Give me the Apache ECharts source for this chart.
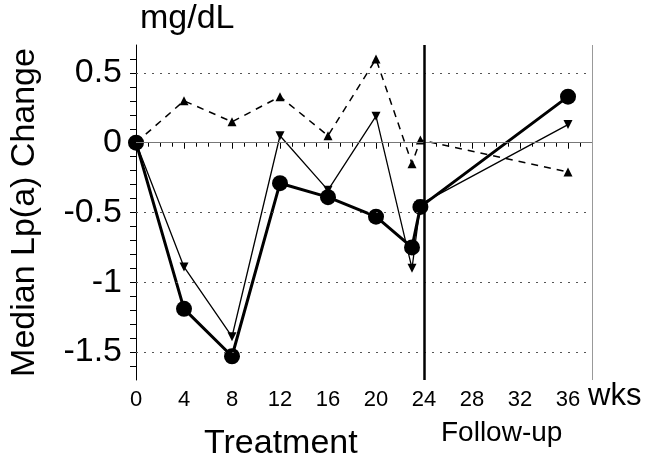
<!DOCTYPE html>
<html>
<head>
<meta charset="utf-8">
<script src="https://cdn.jsdelivr.net/npm/echarts@6/dist/echarts.min.js"></script>
<style>
  html, body { margin: 0; padding: 0; background: #fff; }
  #chart { width: 648px; height: 464px; }
</style>
</head>
<body>
<div id="chart"></div>
<script>
// weeks for each reading, last treatment visit sits just left of the 24 line
var weeks = [0, 4, 8, 12, 16, 20, 23, 23.7, 36]
// median change, mg/dL
var circleVals = [0, -1.19, -1.53, -0.29, -0.39, -0.53, -0.75, -0.46, 0.33]
var downVals = [0, -0.89, -1.39, 0.05, -0.34, 0.19, -0.90, -0.44, 0.13]
var upVals = [0, 0.30, 0.15, 0.33, 0.05, 0.60, -0.15, 0.02, -0.21]
var yGrid = [0.5, -0.5, -1, -1.5]
var xTickMax = 36

var font = 'Liberation Sans, Arial, sans-serif'

function pairs(vals) {
  var out = []
  for (var i = 0; i < weeks.length; i++) {
    out.push([weeks[i], vals[i]])
  }
  return out
}

var gridLines = []
for (var i = 0; i < yGrid.length; i++) {
  gridLines.push({ yAxis: yGrid[i], lineStyle: { type: [2, 6], color: '#555', width: 1 } })
}
gridLines.push({ yAxis: 0, lineStyle: { type: 'solid', color: '#777', width: 1 } })
gridLines.push({ xAxis: 38, lineStyle: { type: 'solid', color: '#999', width: 1 } })
gridLines.push({ xAxis: 24, lineStyle: { type: 'solid', color: '#000', width: 2.5 } })

var chart = echarts.init(document.getElementById('chart'))
var option = {
  animation: false,
  grid: { left: 136, right: 56, top: 45, bottom: 84, outerBoundsMode: 'none', containLabel: false },
  xAxis: {
    type: 'value',
    min: 0,
    max: 38,
    interval: 4,
    axisLine: { lineStyle: { color: '#000', width: 1 } },
    axisTick: { length: 6, lineStyle: { color: '#000' } },
    minorTick: { show: true, splitNumber: 4, length: 4, lineStyle: { color: '#000' } },
    splitLine: { show: false },
    axisLabel: {
      color: '#000',
      fontFamily: font,
      fontSize: 22,
      margin: 9,
      formatter: function(v) { return v > xTickMax ? '' : v }
    }
  },
  yAxis: {
    type: 'value',
    min: -1.7,
    max: 0.7,
    interval: 0.1,
    name: 'Median Lp(a) Change',
    nameLocation: 'middle',
    nameRotate: 90,
    nameGap: 94,
    nameTextStyle: { color: '#000', fontFamily: font, fontSize: 34 },
    axisLine: { show: true, lineStyle: { color: '#000', width: 1 } },
    axisTick: { length: 6, lineStyle: { color: '#000' } },
    splitLine: { show: false },
    axisLabel: {
      color: '#000',
      fontFamily: font,
      fontSize: 34,
      margin: 14,
      showMinLabel: false,
      showMaxLabel: false,
      formatter: function(v) {
        var d = v * 2
        if (Math.abs(d - Math.round(d)) > 1e-6) return ''
        var r = Math.round(d) / 2
        return r === 0 ? '0' : String(r)
      }
    }
  },
  graphic: [
    { type: 'text', left: 140, top: 2, style: { text: 'mg/dL', font: '34px ' + font, fill: '#000' } },
    { type: 'text', left: 588, top: 381, style: { text: 'wks', font: '31px ' + font, fill: '#000' } },
    { type: 'text', left: 204, top: 427, style: { text: 'Treatment', font: '34px ' + font, fill: '#000' } },
    { type: 'text', left: 441, top: 419, style: { text: 'Follow-up', font: '28px ' + font, fill: '#000' } }
  ],
  series: [
    {
      name: 'ref',
      type: 'line',
      data: [],
      silent: true,
      markLine: { symbol: 'none', label: { show: false }, silent: true, data: gridLines }
    },
    {
      name: 'up',
      type: 'line',
      data: pairs(upVals),
      symbol: 'triangle',
      symbolSize: 9,
      lineStyle: { color: '#000', width: 1.5, type: [7, 6] },
      itemStyle: { color: '#000' }
    },
    {
      name: 'down',
      type: 'line',
      data: pairs(downVals),
      symbol: 'triangle',
      symbolRotate: 180,
      symbolSize: 9,
      lineStyle: { color: '#000', width: 1.3 },
      itemStyle: { color: '#000' }
    },
    {
      name: 'circle',
      type: 'line',
      data: pairs(circleVals),
      symbol: 'circle',
      symbolSize: 16,
      lineStyle: { color: '#000', width: 3 },
      itemStyle: { color: '#000' }
    }
  ]
}
chart.setOption(option)
</script>
</body>
</html>
